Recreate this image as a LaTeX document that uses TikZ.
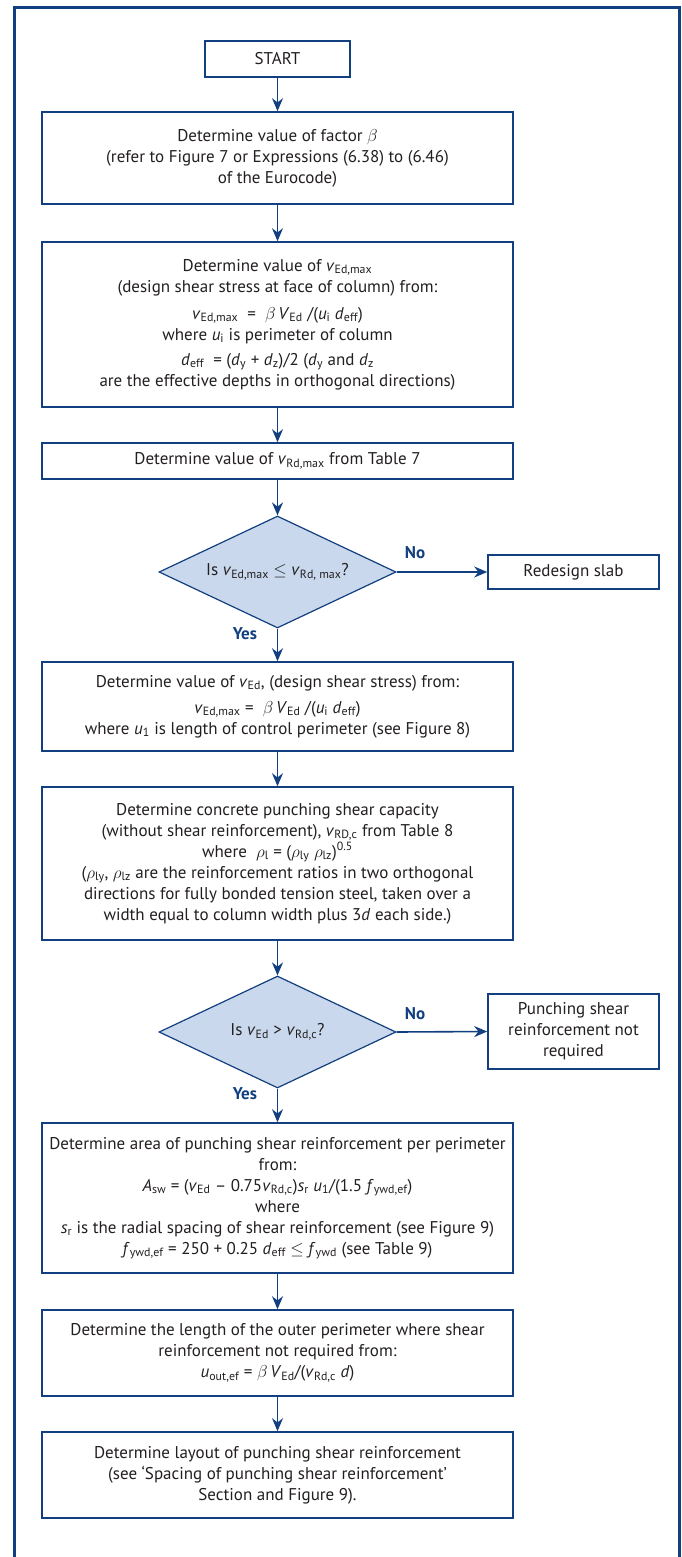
\documentclass[tikz,border=0pt]{standalone}
\usepackage{fontspec}
\setmainfont{PT Sans}
\usepackage{amsmath}
\usetikzlibrary{shapes.geometric,arrows.meta}

\definecolor{navy}{HTML}{123F7F}
\definecolor{pale}{HTML}{C9D8EC}
\definecolor{ink}{HTML}{231F20}

% italic symbol with an upright subscript
\newcommand{\sym}[2]{\textit{#1}\textsubscript{#2}}

\tikzset{
  stepbox/.style={draw=navy, line width=1.6pt, fill=white, text=ink, align=center,
    inner sep=0pt, minimum width=471pt},
  sidebox/.style={stepbox, minimum width=171pt},
  query/.style={diamond, aspect=2.1, draw=navy, line width=1.2pt, fill=pale, text=ink,
    inner sep=0pt, minimum width=237pt, minimum height=112pt},
  flow/.style={draw=navy, line width=1.6pt, -{Stealth[length=13pt,width=11pt]}},
  answer/.style={text=navy, font=\fontsize{17}{20}\selectfont\bfseries},
}

\begin{document}
\begin{tikzpicture}[x=1pt,y=-1pt,font=\fontsize{17}{21}\selectfont]
\useasboundingbox (0,0) rectangle (681,1557);

% page frame, open at the bottom
\draw[navy, line width=3pt] (14,1557) -- (14,8) -- (679,8) -- (679,1557);

\node[stepbox, minimum width=145pt, minimum height=36pt] (start) at (277.5,59) {START};

\node[stepbox, minimum height=92pt] (beta) at (277.5,158)
  {Determine value of factor $\beta$\\
   (refer to Figure 7 or Expressions (6.38) to (6.46)\\
   of the Eurocode)};

\node[stepbox, minimum height=165pt] (vmax) at (277.5,324.5)
  {Determine value of \sym{v}{Ed,max}\\
   (design shear stress at face of column) from:\\[6pt]
   \sym{v}{Ed,max}\ \ = \ $\beta$\,\sym{V}{Ed} /(\sym{u}{i} \sym{d}{eff})\\
   where \sym{u}{i} is perimeter of column\\[4pt]
   \sym{d}{eff}\ \ = (\sym{d}{y} + \sym{d}{z})/2 (\sym{d}{y} and \sym{d}{z}\\
   are the effective depths in orthogonal directions)};

\node[stepbox, minimum height=36pt] (vrdmax) at (277.5,461)
  {Determine value of \sym{v}{Rd,max} from Table 7};

\node[query] (check1) at (277.5,572)
  {Is \sym{v}{Ed,max} $\le$ \sym{v}{Rd, max}?};
\node[sidebox, minimum height=34pt] (redesign) at (573.5,572) {Redesign slab};
\node[answer] (no1) at (415,553) {No};
\node[answer] (yes1) at (245,634) {Yes};

\node[stepbox, minimum height=89pt] (ved) at (277.5,706.5)
  {Determine value of \sym{v}{Ed}, (design shear stress) from:\\[5pt]
   \sym{v}{Ed,max} = \ $\beta$\,\sym{V}{Ed} /(\sym{u}{i} \sym{d}{eff})\\
   where \sym{u}{1} is length of control perimeter (see Figure 8)};

\node[stepbox, minimum height=153pt] (vrdc) at (277.5,863.5)
  {Determine concrete punching shear capacity\\
   (without shear reinforcement), \sym{v}{RD,c} from Table 8\\
   where\ \ $\rho$\textsubscript{l} = ($\rho$\textsubscript{ly} $\rho$\textsubscript{lz})\textsuperscript{0.5}\\
   ($\rho$\textsubscript{ly}, $\rho$\textsubscript{lz} are the reinforcement ratios in two orthogonal\\
   directions for fully bonded tension steel, taken over a\\
   width equal to column width plus 3\textit{d} each side.)};

\node[query] (check2) at (277.5,1032)
  {Is \sym{v}{Ed} > \sym{v}{Rd,c}?};
\node[sidebox, minimum height=75pt] (noreinf) at (573.5,1031.5)
  {Punching shear\\ reinforcement not\\ required};
\node[answer] (no2) at (415,1014) {No};
\node[answer] (yes2) at (245,1094) {Yes};

\node[stepbox, minimum height=150pt] (asw) at (277.5,1198)
  {Determine area of punching shear reinforcement per perimeter\\
   from:\\
   \sym{A}{sw} = (\sym{v}{Ed} -- 0.75\sym{v}{Rd,c})\sym{s}{r} \sym{u}{1}/(1.5 \sym{f}{ywd,ef})\\
   where\\
   \sym{s}{r} is the radial spacing of shear reinforcement (see Figure 9)\\
   \sym{f}{ywd,ef} = 250 + 0.25 \sym{d}{eff} $\le$ \sym{f}{ywd} (see Table 9)};

\node[stepbox, minimum height=86pt] (uout) at (277.5,1353)
  {Determine the length of the outer perimeter where shear\\
   reinforcement not required from:\\
   \sym{u}{out,ef} = $\beta$\,\sym{V}{Ed}/(\sym{v}{Rd,c} \textit{d})};

\node[stepbox, minimum height=86pt] (layout) at (277.5,1475)
  {Determine layout of punching shear reinforcement\\
   (see `Spacing of punching shear reinforcement'\\
   Section and Figure 9).};

% connectors
\draw[flow] (start) -- (beta);
\draw[flow] (beta) -- (vmax);
\draw[flow] (vmax) -- (vrdmax);
\draw[flow] (vrdmax) -- (check1);
\draw[flow] (check1.east) -- (redesign.west);
\draw[flow] (check1.south) -- (ved);
\draw[flow] (ved) -- (vrdc);
\draw[flow] (vrdc) -- (check2);
\draw[flow] (check2.east) -- (noreinf.west);
\draw[flow] (check2.south) -- (asw);
\draw[flow] (asw) -- (uout);
\draw[flow] (uout) -- (layout);
\end{tikzpicture}
\end{document}
